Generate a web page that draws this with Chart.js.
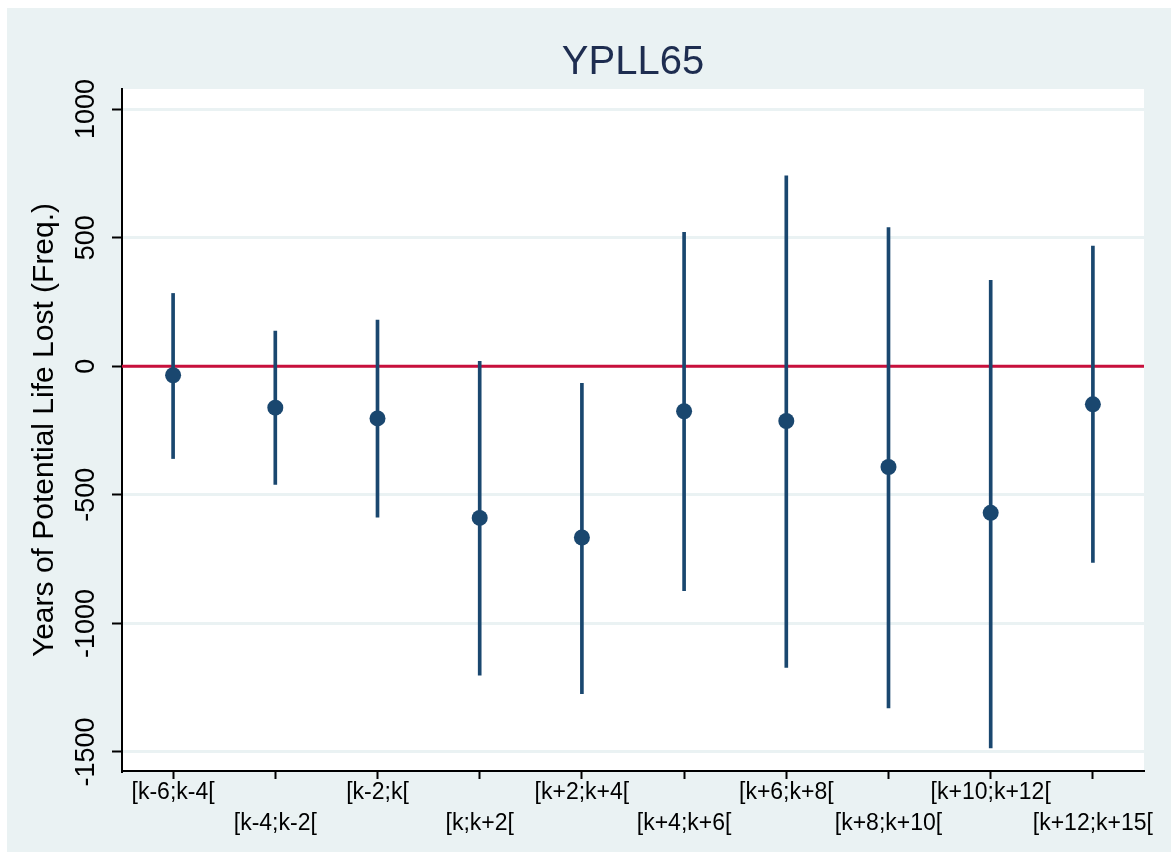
<!DOCTYPE html>
<html>
<head>
<meta charset="utf-8">
<script src="https://cdn.jsdelivr.net/npm/chart.js@4.4.1/dist/chart.umd.min.js"></script>
<style>
    html, body { margin: 0; padding: 0; background: #ffffff; }
    #wrap { width: 1171px; height: 853px; }
</style>
</head>
<body>
<div id="wrap"><canvas id="chart"></canvas></div>
<script>
// Intervalos alrededor de k
const categories = ['[k-6;k-4[', '[k-4;k-2[', '[k-2;k[', '[k;k+2[', '[k+2;k+4[',
    '[k+4;k+6[', '[k+6;k+8[', '[k+8;k+10[', '[k+10;k+12[', '[k+12;k+15['];
// Estimaciones puntuales e intervalos de confianza
const estimates = [-35, -161, -203, -590, -666, -175, -213, -392, -570, -148];
const upper = [283, 137, 179, 19, -67, 521, 740, 539, 334, 467];
const lower = [-359, -460, -587, -1201, -1273, -873, -1171, -1329, -1484, -763];
const yTicks = [-1500, -1000, -500, 0, 500, 1000];

const NAVY = '#1a476f';
const BG = '#eaf2f3';

// Etiquetas alternadas: las impares van en la segunda línea
const xLabels = categories.map((c, i) => i % 2 === 0 ? c : ['', c]);

const backgroundPlugin = {
    id: 'stataBackground',
    beforeDraw: (chart) => {
        const { ctx, chartArea, width, height } = chart;
        ctx.save();
        ctx.fillStyle = '#ffffff';
        ctx.fillRect(0, 0, width, height);
        ctx.fillStyle = BG;
        ctx.fillRect(7, 8, width - 7, height - 9);
        ctx.fillStyle = '#ffffff';
        ctx.fillRect(chartArea.left, chartArea.top, chartArea.right - chartArea.left, chartArea.bottom - chartArea.top);
        ctx.restore();
    }
};

const zeroLinePlugin = {
    id: 'zeroLine',
    beforeDatasetsDraw: (chart) => {
        const { ctx, chartArea } = chart;
        const y = chart.scales.y.getPixelForValue(0);
        ctx.save();
        ctx.strokeStyle = '#c8103c';
        ctx.lineWidth = 3;
        ctx.beginPath();
        ctx.moveTo(chartArea.left, y);
        ctx.lineTo(chartArea.right, y);
        ctx.stroke();
        ctx.restore();
    }
};

const config = {
    data: {
        labels: xLabels,
        datasets: [
            {
                type: 'line',
                data: estimates,
                showLine: false,
                pointRadius: 8,
                pointHoverRadius: 8,
                pointBackgroundColor: NAVY,
                pointBorderColor: NAVY,
                pointBorderWidth: 0,
                order: 0
            },
            {
                type: 'bar',
                data: lower.map((l, i) => [l, upper[i]]),
                backgroundColor: NAVY,
                borderWidth: 0,
                barThickness: 3,
                order: 1
            }
        ]
    },
    options: {
        responsive: true,
        maintainAspectRatio: false,
        animation: false,
        layout: { padding: { left: 0, right: 27, top: 0, bottom: 0 } },
        plugins: {
            legend: { display: false },
            tooltip: { enabled: false },
            title: {
                display: true,
                fullSize: false,
                text: 'YPLL65',
                color: '#1e2d50',
                font: { family: 'Liberation Sans, Arial, sans-serif', size: 40, weight: 'normal' },
                padding: { top: 39, bottom: 2 }
            }
        },
        scales: {
            x: {
                type: 'category',
                offset: true,
                grid: {
                    offset: false,
                    drawOnChartArea: false,
                    drawTicks: true,
                    tickLength: 8,
                    tickColor: '#000000',
                    tickWidth: 2
                },
                border: { color: '#000000', width: 2 },
                ticks: {
                    color: '#000000',
                    autoSkip: false,
                    maxRotation: 0,
                    minRotation: 0,
                    padding: -2,
                    font: { family: 'Liberation Sans, Arial, sans-serif', size: 23, lineHeight: 1.35 }
                },
                afterFit: (scale) => { scale.height = 82; }
            },
            y: {
                min: -1574,
                max: 1078,
                afterBuildTicks: (scale) => { scale.ticks = yTicks.map(v => ({ value: v })); },
                grid: {
                    color: BG,
                    lineWidth: 3,
                    drawTicks: true,
                    tickLength: 10,
                    tickColor: '#000000',
                    tickWidth: 2
                },
                border: { color: '#000000', width: 2 },
                ticks: {
                    color: '#000000',
                    minRotation: 90,
                    maxRotation: 90,
                    crossAlign: 'center',
                    padding: -9,
                    callback: (value) => String(value),
                    font: { family: 'Liberation Sans, Arial, sans-serif', size: 27 }
                },
                title: {
                    display: true,
                    text: 'Years of Potential Life Lost (Freq.)',
                    color: '#000000',
                    font: { family: 'Liberation Sans, Arial, sans-serif', size: 30 },
                    padding: { top: 27, bottom: 0 }
                },
                afterFit: (scale) => { scale.width = 122; }
            }
        }
    },
    plugins: [backgroundPlugin, zeroLinePlugin]
};

new Chart(document.getElementById('chart'), config);
</script>
</body>
</html>
